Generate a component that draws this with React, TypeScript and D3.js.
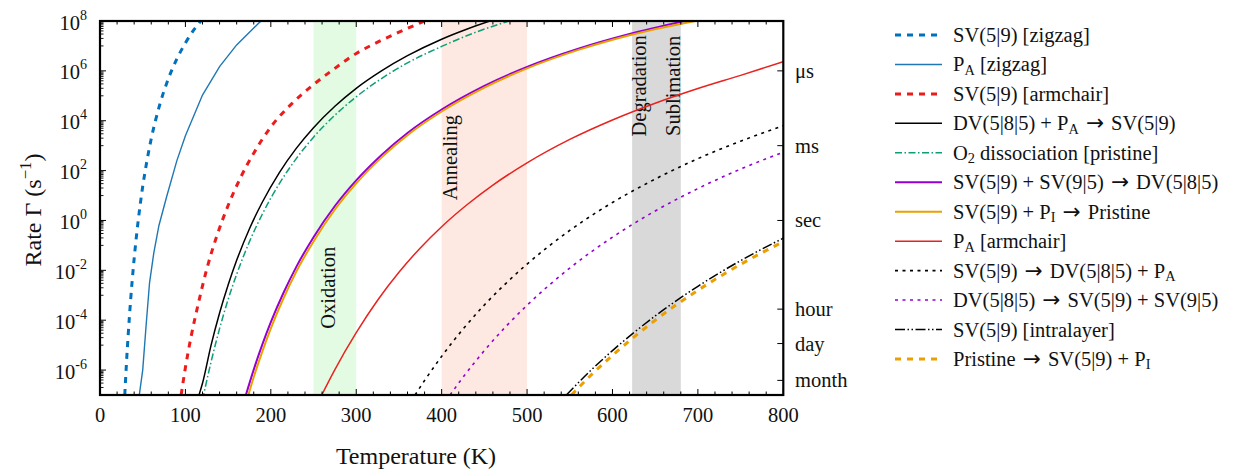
import React from 'react';
import * as d3 from 'd3';

type Pt = [number, number]; // [temperature (K), log10 of rate (s^-1)]

// ---- data ----
const svZigzag: Pt[] = [[29,-7],[31,-5.71],[33,-4.59],[36,-3.13],[40,-1.53],[45,0.07],[50,1.36],[55,2.4],[60,3.28],[70,4.65],[80,5.68],[90,6.48],[100,7.12],[110,7.65],[118,8]];
const paZigzag: Pt[] = [[46,-7],[50,-6],[54,-4.2],[58,-2.5],[63,-1.3],[69,-0.2],[78,0.95],[90,2.4],[100,3.4],[120,5.03],[140,6.17],[160,7.04],[180,7.72],[188.5,8]];
const svArmchair: Pt[] = [[95,-7],[100,-5.9],[107,-4.6],[115,-3.35],[125,-1.95],[137,-0.6],[150,0.6],[165,1.75],[180,2.7],[200,3.75],[225,4.7],[250,5.45],[275,6.1],[300,6.7],[325,7.15],[350,7.55],[380,8]];
const dvPaToSv: Pt[] = [[115,-7.1],[120,-6.53],[130,-5.01],[140,-3.71],[150,-2.59],[160,-1.6],[175,-0.33],[190,0.73],[210,1.92],[230,2.9],[250,3.72],[275,4.58],[300,5.3],[330,6.01],[360,6.61],[400,7.27],[430,7.68],[460,8.04]];
const o2Dissociation: Pt[] = [[120,-7.2],[130,-5.68],[140,-4.34],[150,-3.17],[160,-2.16],[175,-0.85],[190,0.25],[210,1.48],[230,2.49],[250,3.34],[275,4.22],[300,4.96],[330,5.7],[360,6.32],[400,6.98],[440,7.55],[480,8.01]];
const svSvToDv: Pt[] = [[170,-7.09],[180,-5.98],[190,-4.98],[200,-4.08],[215,-2.89],[230,-1.85],[250,-0.67],[275,0.58],[300,1.61],[330,2.64],[360,3.51],[400,4.45],[450,5.4],[500,6.16],[560,6.89],[620,7.48],[690,8.04]];
const svPiToPristine: Pt[] = [[173.7,-7],[180,-6.28],[190,-5.26],[200,-4.33],[215,-3.11],[230,-2.04],[250,-0.84],[275,0.44],[300,1.49],[330,2.54],[360,3.42],[400,4.37],[450,5.33],[500,6.1],[560,6.84],[620,7.43],[697,8]];
const paArmchair: Pt[] = [[259.6,-7],[275,-5.98],[300,-4.5],[325,-3.2],[350,-2.08],[375,-1.1],[400,-0.25],[430,0.64],[460,1.42],[500,2.31],[550,3.25],[600,4.03],[650,4.7],[700,5.29],[750,5.82],[800,6.37]];
const svToDvPa: Pt[] = [[368.9,-7],[380,-6.42],[400,-5.45],[425,-4.36],[450,-3.39],[475,-2.53],[500,-1.75],[550,-0.4],[600,0.72],[650,1.66],[700,2.48],[750,3.18],[800,3.8]];
const dvToSvSv: Pt[] = [[409.8,-7],[425,-6.29],[450,-5.22],[475,-4.26],[500,-3.4],[550,-1.91],[600,-0.67],[650,0.38],[700,1.28],[750,2.06],[800,2.74]];
const svIntralayer: Pt[] = [[546,-7],[575,-6],[600,-5.22],[625,-4.5],[650,-3.83],[700,-2.64],[750,-1.61],[800,-0.71]];
const pristineToSvPi: Pt[] = [[552,-7],[575,-6.2],[600,-5.41],[625,-4.68],[650,-4],[700,-2.8],[750,-1.76],[800,-0.85]];

const seriesData: Pt[][] = [svZigzag, paZigzag, svArmchair, dvPaToSv, o2Dissociation, svSvToDv, svPiToPristine, paArmchair, svToDvPa, dvToSvSv, svIntralayer, pristineToSvPi];
const seriesLabels = [
  'SV(5|9) [zigzag]',
  'P_{A} [zigzag]',
  'SV(5|9) [armchair]',
  'DV(5|8|5) + P_{A} \u2192 SV(5|9)',
  'O_{2} dissociation [pristine]',
  'SV(5|9) + SV(9|5) \u2192 DV(5|8|5)',
  'SV(5|9) + P_{I} \u2192 Pristine',
  'P_{A} [armchair]',
  'SV(5|9) \u2192 DV(5|8|5) + P_{A}',
  'DV(5|8|5) \u2192 SV(5|9) + SV(9|5)',
  'SV(5|9) [intralayer]',
  'Pristine \u2192 SV(5|9) + P_{I}',
];

const xTickValues = [0, 100, 200, 300, 400, 500, 600, 700, 800];
const yTickExponents = [-6, -4, -2, 0, 2, 4, 6, 8];
const timeLabels = ['\u03bcs', 'ms', 'sec', 'hour', 'day', 'month'];
const timeRates = [1e6, 1e3, 1, 1 / 3600, 1 / 86400, 1 / (30 * 86400)];

const bandStarts = [250, 400, 623];
const bandEnds = [300, 500, 680];
const bandNames = ['Oxidation', 'Annealing', 'Degradation', 'Sublimation'];

// ---- styles / layout ----
const styles = [
  { color: '#0072bd', width: 3, dash: '6,6', curve: 'smooth' },
  { color: '#1f78b4', width: 1.4, dash: '', curve: 'linear' },
  { color: '#ec1c1c', width: 3, dash: '6,6', curve: 'smooth' },
  { color: '#000000', width: 1.5, dash: '', curve: 'smooth' },
  { color: '#0f9d77', width: 1.5, dash: '7,2.5,1.5,2.5', curve: 'smooth' },
  { color: '#9400d3', width: 2, dash: '', curve: 'smooth' },
  { color: '#eba000', width: 2, dash: '', curve: 'smooth' },
  { color: '#e8231f', width: 1.5, dash: '', curve: 'smooth' },
  { color: '#000000', width: 1.6, dash: '3,4.5', curve: 'smooth' },
  { color: '#9400d3', width: 1.6, dash: '3,4.5', curve: 'smooth' },
  { color: '#000000', width: 1.5, dash: '10,2.5,1.5,2.5,1.5,2.5', curve: 'smooth' },
  { color: '#eba000', width: 3, dash: '6,6', curve: 'smooth' },
];
const bandColors = ['#e3fbe3', '#fde9e1', '#d9d9d9'];
const bandLabelPos: [number, number][] = [[275, -2.7], [418, 2.52], [639.5, 5.4], [679, 5.4]];

const PL = 100, PR = 783.3, PT = 21, PB = 395;
const FONT = "'Liberation Serif','Times New Roman',Times,serif";
const ARROW_FONT = "'DejaVu Sans',sans-serif";

const xScale = d3.scaleLinear().domain([0, 800]).range([PL, PR]);
const yScale = d3.scaleLog().domain([1e-7, 1e8]).range([PB, PT]);

function rich(s: string, base: number, subShift = 4, supShift = -9) {
  const out: any[] = [];
  const re = /([_^])\{([^}]*)\}|(\u2192)/g;
  let last = 0;
  let m: RegExpExecArray | null;
  let k = 0;
  let pending = 0;
  let pendingDx = 0;
  while ((m = re.exec(s))) {
    if (m.index > last) {
      out.push(<tspan key={k++} dy={pending || undefined} dx={pendingDx || undefined} fontSize={base}>{s.slice(last, m.index)}</tspan>);
      pending = 0;
      pendingDx = 0;
    }
    if (m[3]) {
      out.push(<tspan key={k++} dy={pending || undefined} dx={2} fontSize={base * 1.05} fontFamily={ARROW_FONT}>{'\u2192'}</tspan>);
      pending = 0;
      pendingDx = 2;
    } else {
      const dy = m[1] === '_' ? subShift : supShift;
      out.push(<tspan key={k++} dy={dy + pending} fontSize={base * 0.7}>{m[2]}</tspan>);
      pending = -dy;
    }
    last = re.lastIndex;
  }
  if (last < s.length) out.push(<tspan key={k++} dy={pending || undefined} dx={pendingDx || undefined} fontSize={base}>{s.slice(last)}</tspan>);
  return out;
}

export default function App() {
  const lineSmooth = d3.line<Pt>().x(d => xScale(d[0])).y(d => yScale(Math.pow(10, d[1]))).curve(d3.curveMonotoneX);
  const lineLinear = d3.line<Pt>().x(d => xScale(d[0])).y(d => yScale(Math.pow(10, d[1]))).curve(d3.curveLinear);

  const xMinor = d3.range(0, 801, 20);
  const yMinor: number[] = [];
  for (let e = -7; e <= 7; e += 2) for (let k = 1; k <= 9; k++) yMinor.push(k * Math.pow(10, e));

  const legendY = (i: number) => 35 + 29.45 * i;

  return (
    <svg width={1237} height={473} style={{ position: 'absolute', left: 0, top: 0, background: '#fff' }} fontFamily={FONT}>
      <defs>
        <clipPath id="plotClip">
          <rect x={PL} y={PT} width={PR - PL} height={PB - PT} />
        </clipPath>
      </defs>
      {bandStarts.map((s, i) => (
        <rect key={i} x={xScale(s)} y={PT} width={xScale(bandEnds[i]) - xScale(s)} height={PB - PT} fill={bandColors[i]} />
      ))}
      {bandNames.map((n, i) => (
        <text key={n} transform={`translate(${xScale(bandLabelPos[i][0])},${yScale(Math.pow(10, bandLabelPos[i][1]))}) rotate(-90)`}
          textAnchor="middle" fontSize={20.5} fill="#111">{n}</text>
      ))}
      <g clipPath="url(#plotClip)">
        {seriesData.map((d, i) => (
          <path key={i} d={(styles[i].curve === 'linear' ? lineLinear : lineSmooth)(d) || ''} fill="none"
            stroke={styles[i].color} strokeWidth={styles[i].width} strokeDasharray={styles[i].dash || undefined} />
        ))}
      </g>
      {/* ticks */}
      {xMinor.map(t => {
        const major = t % 100 === 0;
        const len = major ? 6 : 3.5;
        const x = xScale(t);
        return (
          <g key={t} stroke="#000" strokeWidth={1}>
            <line x1={x} x2={x} y1={PB} y2={PB - len} />
            <line x1={x} x2={x} y1={PT} y2={PT + len} />
          </g>
        );
      })}
      {yTickExponents.map(e => {
        const y = yScale(Math.pow(10, e));
        return <line key={'ym' + e} x1={PL} x2={PL + 6} y1={y} y2={y} stroke="#000" strokeWidth={1} />;
      })}
      {yMinor.map((v, i) => {
        const y = yScale(v);
        return <line key={'yn' + i} x1={PL} x2={PL + 3.5} y1={y} y2={y} stroke="#000" strokeWidth={0.9} />;
      })}
      {timeRates.map((r, i) => {
        const y = yScale(r);
        return <line key={'t' + i} x1={PR} x2={PR - 6} y1={y} y2={y} stroke="#000" strokeWidth={1} />;
      })}
      <rect x={PL} y={PT} width={PR - PL} height={PB - PT} fill="none" stroke="#000" strokeWidth={2.2} />
      {/* tick labels */}
      {xTickValues.map(t => (
        <text key={'xl' + t} x={xScale(t)} y={422} textAnchor="middle" fontSize={20.5} fill="#111">{t}</text>
      ))}
      {yTickExponents.map(e => (
        <text key={'yl' + e} x={87} y={yScale(Math.pow(10, e)) + 8.5} textAnchor="end" fontSize={20.5} fill="#111">
          <tspan>10</tspan>
          <tspan dy={-10} fontSize={14}>{e < 0 ? '-' + (-e) : String(e)}</tspan>
        </text>
      ))}
      {timeLabels.map((l, i) => (
        <text key={'tl' + i} x={795} y={yScale(timeRates[i]) + 7} fontSize={20.5} fill="#111">{l}</text>
      ))}
      {/* axis titles */}
      <text x={416} y={464} textAnchor="middle" fontSize={24} fill="#111">Temperature (K)</text>
      <text transform="translate(41,210) rotate(-90)" textAnchor="middle" fontSize={24} fill="#111">
        {rich('Rate \u0393 (s^{\u22121})', 24, 4, -10)}
      </text>
      {/* legend */}
      {seriesLabels.map((l, i) => {
        const y = legendY(i);
        return (
          <g key={'lg' + i}>
            <line x1={895} x2={942} y1={y} y2={y} stroke={styles[i].color} strokeWidth={styles[i].width}
              strokeDasharray={styles[i].dash || undefined} />
            <text x={953} y={y + 7} fontSize={20.5} fill="#111">{rich(l, 20.5, 3.5, -9)}</text>
          </g>
        );
      })}
    </svg>
  );
}
